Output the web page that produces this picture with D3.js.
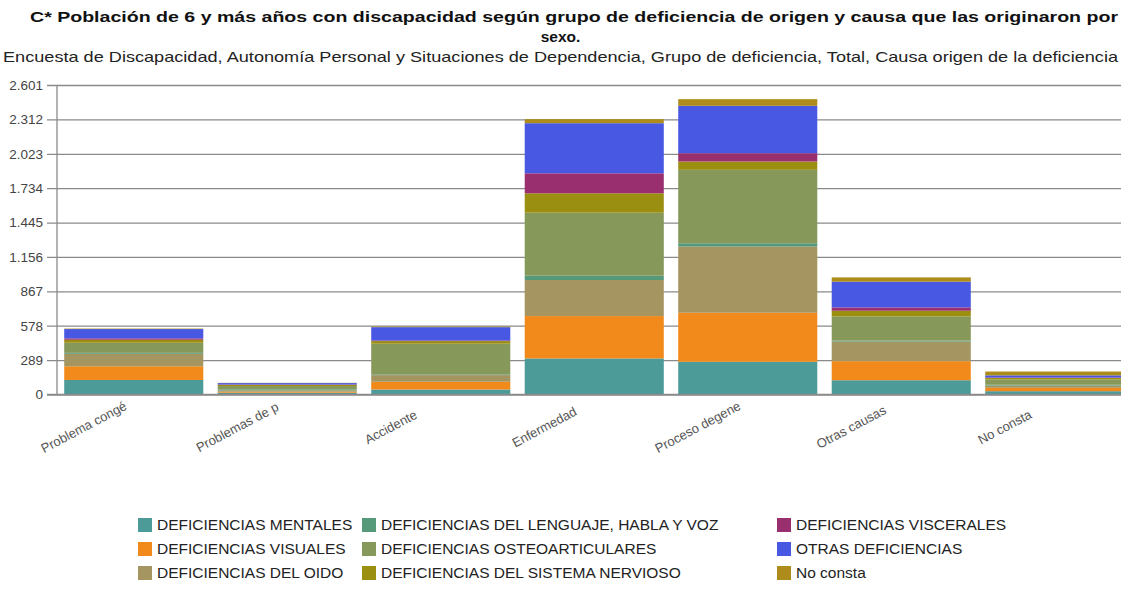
<!DOCTYPE html>
<html>
<head>
<meta charset="utf-8">
<script src="https://cdn.jsdelivr.net/npm/d3@7"></script>
<style>
    body { margin: 0; background: #fff; }
    text { font-family: Arial, "Liberation Sans", sans-serif; }
</style>
</head>
<body>
<svg id="canvas"></svg>
<script>
// chart data
var causas = ["Problema congénito", "Problemas de parto", "Accidente", "Enfermedad",
    "Proceso degenerativo", "Otras causas", "No consta"];

var grupos = ["DEFICIENCIAS MENTALES", "DEFICIENCIAS VISUALES", "DEFICIENCIAS DEL OIDO",
    "DEFICIENCIAS DEL LENGUAJE, HABLA Y VOZ", "DEFICIENCIAS OSTEOARTICULARES",
    "DEFICIENCIAS DEL SISTEMA NERVIOSO", "DEFICIENCIAS VISCERALES", "OTRAS DEFICIENCIAS", "No consta"];

var mentales      = [122, 15,  42, 303, 275, 120, 28];
var visuales      = [115,  8,  65, 356, 412, 160, 28];
var oido          = [105, 12,  56, 303, 556, 165, 20];
var lenguaje      = [  8,  8,   6,  36,  28,   8,  6];
var osteo         = [ 85, 28, 258, 530, 617, 203, 45];
var nervioso      = [ 25, 10,  22, 163,  70,  48, 12];
var viscerales    = [ 12,  3,   5, 168,  70,  28,  4];
var otras         = [ 78, 12, 112, 421, 398, 216, 18];
var noConsta      = [  4,  2,   5,  34,  56,  36, 32];

var yTicks = [0, 289, 578, 867, 1156, 1445, 1734, 2023, 2312, 2601];

var colores = ["#4d9b98", "#f18a1b", "#a59560", "#55997a", "#86985a",
    "#9b8f12", "#9a2f6f", "#4858e3", "#ad8c1c"];

var title1 = "C* Población de 6 y más años con discapacidad según grupo de deficiencia de origen y causa que las originaron por";
var title2 = "sexo.";
var subtitle = "Encuesta de Discapacidad, Autonomía Personal y Situaciones de Dependencia, Grupo de deficiencia, Total, Causa origen de la deficiencia";

var series = [mentales, visuales, oido, lenguaje, osteo, nervioso, viscerales, otras, noConsta];

// table for d3.stack
var table = causas.map(function(c, i) {
    var row = {causa: c};
    grupos.forEach(function(g, k) { row[g] = series[k][i]; });
    return row;
});

var width = 1121, height = 592;

var svg = d3.select("#canvas")
    .attr("width", width)
    .attr("height", height);

var es = d3.formatLocale({decimal: ",", thousands: ".", grouping: [3], currency: ["", "€"]});
var fmt = es.format(",d");

var x = d3.scaleBand()
    .domain(causas)
    .range([57, 1131.5])
    .paddingInner(0.094)
    .paddingOuter(0.047);

var y = d3.scaleLinear()
    .domain([0, 2601])
    .range([394.5, 85]);

var color = d3.scaleOrdinal(grupos, colores);

// titles (the long line is stretched to the width it has in the picture)
svg.append("text")
    .attr("x", 30)
    .attr("y", 22)
    .attr("textLength", 1088)
    .attr("lengthAdjust", "spacingAndGlyphs")
    .style("font-size", "15.5px")
    .style("font-weight", "bold")
    .style("fill", "#111")
    .text(title1);

svg.append("text")
    .attr("x", width / 2)
    .attr("y", 42)
    .attr("text-anchor", "middle")
    .style("font-size", "15.5px")
    .style("font-weight", "bold")
    .style("fill", "#111")
    .text(title2);

svg.append("text")
    .attr("x", 3)
    .attr("y", 62)
    .attr("textLength", 1115)
    .attr("lengthAdjust", "spacingAndGlyphs")
    .style("font-size", "15px")
    .style("fill", "#222")
    .text(subtitle);

// y axis with gridlines
var gy = svg.append("g")
    .attr("class", "y axis")
    .attr("transform", "translate(47,0)")
    .call(d3.axisLeft(y).tickValues(yTicks).tickFormat(fmt).tickSize(-(width - 47)).tickPadding(4));

gy.select(".domain").remove();
gy.selectAll(".tick line")
    .attr("stroke", "#8a8a8a")
    .attr("stroke-width", 1.3);
gy.selectAll(".tick text")
    .style("font-size", "13.5px")
    .style("fill", "#444")
    .attr("x", -4);

// stacked bars
var stacked = d3.stack().keys(grupos)(table);

svg.append("g")
    .selectAll("g")
    .data(stacked)
    .enter()
    .append("g")
    .attr("fill", function(d) { return color(d.key); })
    .selectAll("rect")
    .data(function(d) { return d; })
    .enter()
    .append("rect")
    .attr("x", function(d) { return x(d.data.causa); })
    .attr("width", x.bandwidth())
    .attr("y", function(d) { return y(d[1]); })
    .attr("height", function(d) { return y(d[0]) - y(d[1]); });

// axis lines
svg.append("line")
    .attr("x1", 57).attr("x2", 57)
    .attr("y1", 85).attr("y2", 395)
    .attr("stroke", "#8a8a8a")
    .attr("stroke-width", 1.3);

svg.append("line")
    .attr("x1", 47).attr("x2", width)
    .attr("y1", 394.5).attr("y2", 394.5)
    .attr("stroke", "#8a8a8a")
    .attr("stroke-width", 1.3);

// slanted, truncated category labels
svg.append("g")
    .selectAll("text")
    .data(causas)
    .enter()
    .append("text")
    .attr("text-anchor", "middle")
    .attr("dy", "0.35em")
    .attr("transform", function(d) {
        return "translate(" + (x(d) + x.bandwidth() / 2 - 50) + ",427) rotate(-28)";
    })
    .style("font-size", "13px")
    .style("fill", "#555")
    .text(function(d) { return d.length > 14 ? d.substring(0, 14) : d; });

// legend, 3 rows filled column by column
var colX = [138, 362, 777];
var rowY = [525, 549, 573];

var legend = svg.append("g")
    .selectAll("g")
    .data(grupos)
    .enter()
    .append("g")
    .attr("transform", function(d, i) {
        return "translate(" + colX[Math.floor(i / 3)] + "," + rowY[i % 3] + ")";
    });

legend.append("rect")
    .attr("x", 0)
    .attr("y", -7)
    .attr("width", 14)
    .attr("height", 14)
    .attr("fill", function(d) { return color(d); });

legend.append("text")
    .attr("x", 19)
    .attr("dy", "0.35em")
    .style("font-size", "15.5px")
    .style("fill", "#222")
    .text(function(d) { return d; });
</script>
</body>
</html>
